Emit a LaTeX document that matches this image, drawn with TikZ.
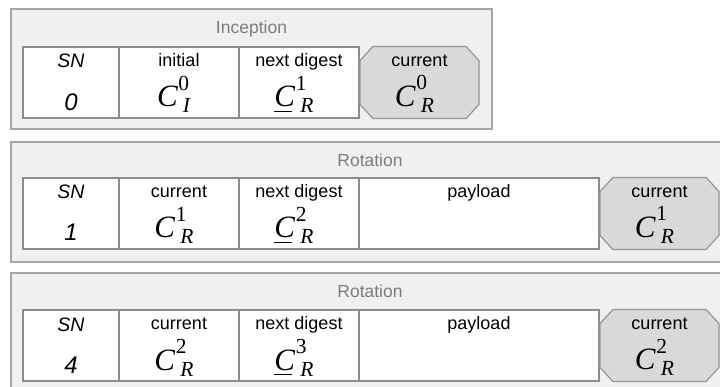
\documentclass[tikz,border=0pt]{standalone}
\usepackage{fontspec}
\setmainfont{Liberation Sans}
\newfontfamily\tmsfont{Liberation Serif}
\usetikzlibrary{positioning}

\definecolor{panelfill}{RGB}{240,240,240}
\definecolor{panelline}{RGB}{165,165,165}
\definecolor{cellline}{RGB}{140,140,140}
\definecolor{keyfill}{RGB}{217,217,217}
\definecolor{keyline}{RGB}{150,150,150}
\definecolor{titlegray}{RGB}{125,125,125}

% C with a superscript and a subscript, set in Times-like type
\newcommand{\keyC}[2]{\mbox{\tmsfont\fontsize{31}{31}\selectfont\textit{C}\kern0.5pt%
  \rlap{\raisebox{16.5pt}{\fontsize{21.5}{21.5}\selectfont #1}}\kern4.5pt%
  \raisebox{-6pt}{\fontsize{21.5}{21.5}\selectfont\textit{#2}}}}
% the same, with the C underlined
\newcommand{\digestC}[2]{\mbox{\tmsfont\fontsize{31}{31}\selectfont%
  \rlap{\rule[-5pt]{18pt}{1.4pt}}\textit{C}\kern0.5pt%
  \rlap{\raisebox{16.5pt}{\fontsize{21.5}{21.5}\selectfont #1}}\kern4.5pt%
  \raisebox{-6pt}{\fontsize{21.5}{21.5}\selectfont\textit{#2}}}}
% octagon round a (blank) key node
\newcommand{\chamferbox}[1]{%
  \draw[keyshape] ([xshift=13pt]#1.north west) -- ([xshift=-13pt]#1.north east)
    -- ([yshift=-14pt]#1.north east) -- ([yshift=14pt]#1.south east)
    -- ([xshift=-13pt]#1.south east) -- ([xshift=13pt]#1.south west)
    -- ([yshift=14pt]#1.south west) -- ([yshift=-14pt]#1.north west) -- cycle;}

\begin{document}
\begin{tikzpicture}[x=1pt, y=-1pt, font=\fontsize{18}{20}\selectfont,
  panel/.style={draw=panelline, fill=panelfill, line width=1.4pt, inner sep=0pt,
    outer sep=0pt, minimum height=120pt, anchor=north west},
  cell/.style={draw=cellline, fill=white, line width=1.2pt, inner sep=0pt,
    outer sep=0pt, minimum height=71pt},
  keybox/.style={inner sep=0pt, outer sep=0pt, minimum width=119pt, minimum height=72pt},
  keyshape/.style={draw=keyline, fill=keyfill, line width=1.2pt, line join=round},
  ttl/.style={text=titlegray, font=\fontsize{17.5}{20}\selectfont, anchor=base, inner sep=0pt},
  lbl/.style={anchor=base, inner sep=0pt},
  snl/.style={anchor=base, inner sep=0pt, font=\fontsize{19.5}{20}\selectfont\itshape},
  val/.style={anchor=base, inner sep=0pt, font=\fontsize{24}{24}\selectfont\itshape},
  ckey/.style={anchor=base, inner sep=0pt, xshift=-5pt}]
  \useasboundingbox (0,0) rectangle (720,387);
  \clip (0,0) rectangle (720,387);

  % inception event
  \node[panel, minimum width=481pt] (inception) at (11,9) {};
  \node[ttl] (inctitle) at ([yshift=-25pt]inception.north) {Inception};
  \node[cell, minimum width=96pt, anchor=north west] (sn0) at (23,47) {};
  \node[cell, minimum width=120pt, right=0pt of sn0] (init0) {};
  \node[cell, minimum width=120pt, right=0pt of init0] (next0) {};
  \node[keybox, right=1pt of next0] (cur0) {};
  \chamferbox{cur0}
  \node[snl] (sn0l) at ([yshift=-21pt]sn0.north) {SN};
  \node[val] (sn0v) at ([yshift=-64pt]sn0.north) {0};
  \node[lbl] (init0l) at ([yshift=-20pt]init0.north) {initial};
  \node[ckey] (init0v) at ([yshift=-60pt]init0.north) {\keyC{0}{I}};
  \node[lbl] (next0l) at ([yshift=-20pt]next0.north) {next digest};
  \node[ckey] (next0v) at ([yshift=-60pt]next0.north) {\digestC{1}{R}};
  \node[lbl] (cur0l) at ([yshift=-20pt]cur0.north) {current};
  \node[ckey] (cur0v) at ([yshift=-60pt]cur0.north) {\keyC{0}{R}};

  % first rotation
  \node[panel, minimum width=718pt] (rotA) at (11,142) {};
  \node[ttl] (rotAtitle) at ([yshift=-25pt]rotA.north) {Rotation};
  \node[cell, minimum width=96pt, anchor=north west] (sn1) at (23,178) {};
  \node[cell, minimum width=120pt, right=0pt of sn1] (cur1) {};
  \node[cell, minimum width=120pt, right=0pt of cur1] (next1) {};
  \node[cell, minimum width=240pt, right=0pt of next1] (pay1) {};
  \node[keybox, right=1pt of pay1] (sig1) {};
  \chamferbox{sig1}
  \node[snl] (sn1l) at ([yshift=-21pt]sn1.north) {SN};
  \node[val] (sn1v) at ([yshift=-63pt]sn1.north) {1};
  \node[lbl] (cur1l) at ([yshift=-20pt]cur1.north) {current};
  \node[ckey] (cur1v) at ([yshift=-60pt]cur1.north) {\keyC{1}{R}};
  \node[lbl] (next1l) at ([yshift=-20pt]next1.north) {next digest};
  \node[ckey] (next1v) at ([yshift=-60pt]next1.north) {\digestC{2}{R}};
  \node[lbl] (pay1l) at ([yshift=-20pt]pay1.north) {payload};
  \node[lbl] (sig1l) at ([yshift=-20pt]sig1.north) {current};
  \node[ckey] (sig1v) at ([yshift=-60pt]sig1.north) {\keyC{1}{R}};

  % later rotation
  \node[panel, minimum width=718pt] (rotB) at (11,273) {};
  \node[ttl] (rotBtitle) at ([yshift=-25pt]rotB.north) {Rotation};
  \node[cell, minimum width=96pt, anchor=north west] (sn4) at (23,310) {};
  \node[cell, minimum width=120pt, right=0pt of sn4] (cur4) {};
  \node[cell, minimum width=120pt, right=0pt of cur4] (next4) {};
  \node[cell, minimum width=240pt, right=0pt of next4] (pay4) {};
  \node[keybox, right=1pt of pay4] (sig4) {};
  \chamferbox{sig4}
  \node[snl] (sn4l) at ([yshift=-21pt]sn4.north) {SN};
  \node[val] (sn4v) at ([yshift=-63pt]sn4.north) {4};
  \node[lbl] (cur4l) at ([yshift=-20pt]cur4.north) {current};
  \node[ckey] (cur4v) at ([yshift=-60pt]cur4.north) {\keyC{2}{R}};
  \node[lbl] (next4l) at ([yshift=-20pt]next4.north) {next digest};
  \node[ckey] (next4v) at ([yshift=-60pt]next4.north) {\digestC{3}{R}};
  \node[lbl] (pay4l) at ([yshift=-20pt]pay4.north) {payload};
  \node[lbl] (sig4l) at ([yshift=-20pt]sig4.north) {current};
  \node[ckey] (sig4v) at ([yshift=-60pt]sig4.north) {\keyC{2}{R}};
\end{tikzpicture}
\end{document}
